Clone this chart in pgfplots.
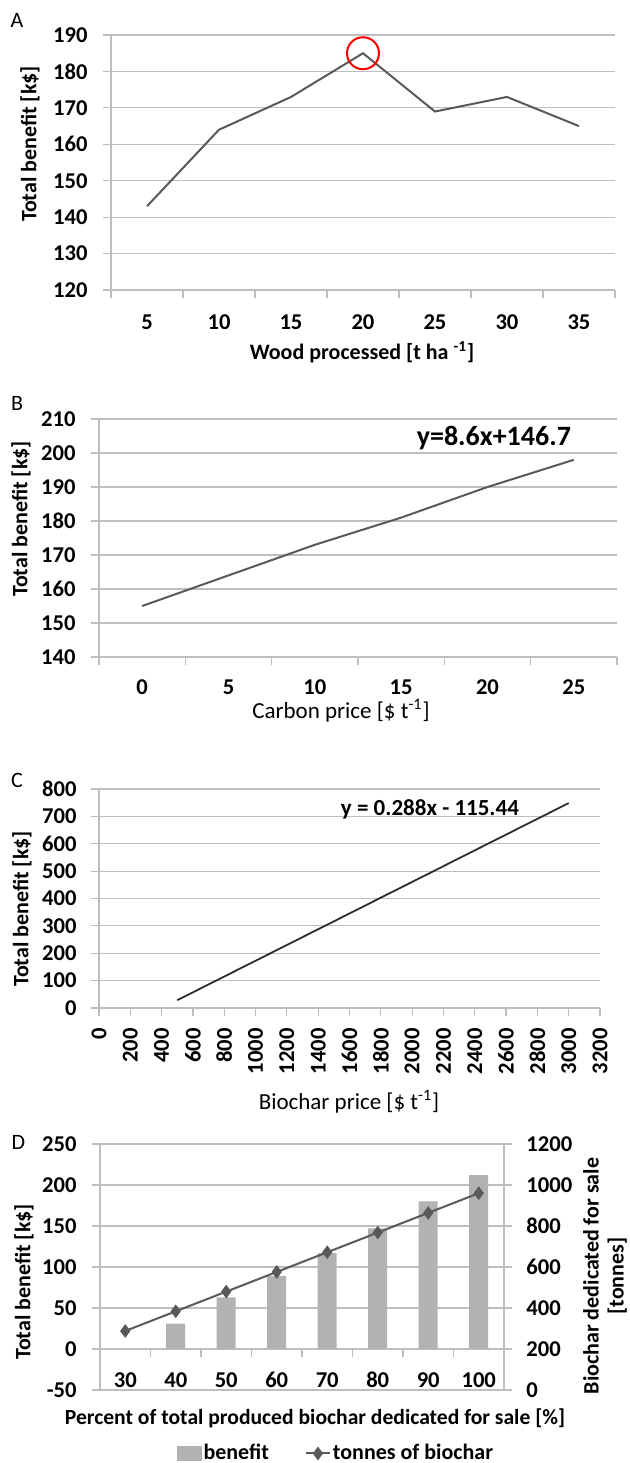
\documentclass[border=0pt]{standalone}
\usepackage{fontspec}
\setmainfont{Carlito}
\usepackage{pgfplots}
\pgfplotsset{compat=1.18}
\definecolor{gridgray}{RGB}{190,190,190}
\definecolor{linegray}{RGB}{89,89,89}
\definecolor{bargray}{RGB}{178,178,178}
\definecolor{darkline}{RGB}{45,45,45}
\newcommand\tfont{\fontsize{11.3}{13}\selectfont\bfseries}
\newcommand\lfont{\fontsize{11}{13}\selectfont\bfseries}
\newcommand\rfont{\fontsize{11.5}{13}\selectfont}
\pgfplotsset{
  excel/.style={
    scale only axis,
    anchor=south west,
    axis x line*=bottom,
    axis y line*=left,
    axis line style={draw=gridgray, line width=0.6pt},
    ymajorgrids,
    grid style={draw=gridgray, line width=0.6pt},
    tick style={draw=gridgray, line width=0.6pt},
    tick align=outside,
    major tick length=4pt,
    tick label style={font=\tfont},
    /pgf/number format/assume math mode=true,
    /pgf/number format/1000 sep={},
    yticklabel style={anchor=east, inner sep=0pt, xshift=-7.5pt},
    clip=false,
  },
}
\begin{document}
\begin{tikzpicture}
\useasboundingbox (0,0) rectangle (315pt,-731.5pt);
% ---------------- A
\begin{axis}[excel, at={(55.5pt,-145pt)}, width=252pt, height=127.5pt,
  xmin=-0.5, xmax=6.5, ymin=120, ymax=190, ytick={120,130,...,190},
  xtick={-0.5,0.5,...,6.5}, xticklabels={},
  extra x ticks={0,1,2,3,4,5,6}, extra x tick labels={5,10,15,20,25,30,35},
  extra x tick style={major tick length=0pt, xticklabel style={anchor=center, yshift=-16pt}},
]
\addplot[linegray, line width=1pt] coordinates {(0,143)(1,164)(2,173)(3,185)(4,169)(5,173)(6,165)};
\addplot[only marks, mark=o, mark size=8pt, red, mark options={line width=1pt}] coordinates {(3,185)};
\end{axis}
% ---------------- B
\begin{axis}[excel, at={(49.5pt,-328.5pt)}, width=259pt, height=119pt,
  xmin=-0.5, xmax=5.5, ymin=140, ymax=210, ytick={140,150,...,210},
  xtick={-0.5,0.5,...,5.5}, xticklabels={},
  extra x ticks={0,1,2,3,4,5}, extra x tick labels={0,5,10,15,20,25},
  extra x tick style={major tick length=0pt, xticklabel style={anchor=center, yshift=-15pt}},
]
\addplot[linegray, line width=1pt] coordinates {(0,155)(1,164)(2,173)(3,181)(4,190)(5,198)};
\end{axis}
% ---------------- C
\begin{axis}[excel, at={(49.5pt,-504pt)}, width=250.5pt, height=109.5pt,
  xmin=0, xmax=3200, xtick={0,200,...,3200},
  ymin=0, ymax=800, ytick={0,100,...,800},
  yticklabel style={xshift=0.5pt},
  xticklabel style={yshift=-6pt, rotate=90, anchor=east, inner sep=0pt},
]
\addplot[darkline, line width=0.9pt] coordinates {(500,28.6)(1000,172.6)(1500,316.6)(2000,460.6)(2500,604.6)(3000,748.6)};
\end{axis}
% ---------------- D (left)
\begin{axis}[excel, at={(50pt,-695pt)}, width=202pt, height=123pt,
  axis x line*=middle,
  xmin=-0.5, xmax=7.5, ymin=-50, ymax=250, ytick={-50,0,...,250},
  yticklabels={-50,0,50,100,150,200,250},
  xtick={-0.5,0.5,...,7.5}, xticklabels={},
  extra x ticks={0,1,2,3,4,5,6,7}, extra x tick labels={30,40,50,60,70,80,90,100},
  extra x tick style={major tick length=0pt, xticklabel style={anchor=center, yshift=-15.5pt}},
]
\addplot[ybar, bar width=9.5pt, fill=bargray, draw=none] coordinates {(1,31)(2,63)(3,89)(4,117)(5,147)(6,180)(7,212)};
\end{axis}
% ---------------- D (right)
\begin{axis}[scale only axis, anchor=south west, at={(50pt,-695pt)}, width=202pt, height=123pt,
  axis x line=none, axis y line*=right,
  axis line style={draw=gridgray, line width=0.6pt},
  tick style={draw=gridgray, line width=0.6pt}, tick align=outside, major tick length=4pt,
  tick label style={font=\tfont},
  /pgf/number format/assume math mode=true, /pgf/number format/1000 sep={},
  yticklabel style={anchor=west, inner sep=0pt, xshift=7pt},
  xmin=-0.5, xmax=7.5, ymin=0, ymax=1200, ytick={0,200,...,1200},
  clip=false,
  legend style={at={(0.584,-0.258)}, anchor=center, draw=none, fill=none,
    legend columns=2, font=\lfont,
    /tikz/every even column/.append style={column sep=17pt},
    nodes={inner sep=1pt}},
]
\addlegendimage{legend image code/.code={\fill[bargray] (0pt,-3.6pt) rectangle (12pt,3.6pt);}}
\addlegendentry{benefit}
\addplot[linegray, line width=1pt, mark=diamond*, mark size=2.6pt, mark options={fill=linegray},
  legend image code/.code={\draw[mark repeat=2, mark phase=2] plot coordinates {(0pt,0pt)(6pt,0pt)(12pt,0pt)};}]
  coordinates {(0,288)(1,384)(2,480)(3,576)(4,672)(5,768)(6,864)(7,960)};
\addlegendentry{tonnes of biochar}
\end{axis}
% ---------------- texts
\node[font=\fontsize{11}{13}\selectfont] at (8.5pt,-10pt) {A};
\node[font=\fontsize{11}{13}\selectfont] at (8.5pt,-201.5pt) {B};
\node[font=\fontsize{11}{13}\selectfont] at (8.5pt,-390pt) {C};
\node[font=\fontsize{11}{13}\selectfont] at (9.25pt,-571pt) {D};
\node[font=\lfont, rotate=90] at (15pt,-72pt) {Total benefit [k\$]};
\node[font=\lfont, rotate=90] at (10.5pt,-259.5pt) {Total benefit [k\$]};
\node[font=\lfont, rotate=90] at (11pt,-454.5pt) {Total benefit [k\$]};
\node[font=\lfont, rotate=90] at (12pt,-641pt) {Total benefit [k\$]};
\node[font=\fontsize{11}{12.5}\selectfont\bfseries, rotate=90, align=center, inner sep=0pt] at (302.5pt,-638pt) {Biochar dedicated for sale\\{}[tonnes]};
\node[font=\lfont] at (181pt,-176pt) {Wood processed [t ha \textsuperscript{-1}]};
\node[font=\rfont] at (170.5pt,-355.5pt) {Carbon price [\$ t\textsuperscript{-1}]};
\node[font=\rfont] at (174.5pt,-550.75pt) {Biochar price [\$ t\textsuperscript{-1}]};
\node[font=\fontsize{10.8}{13}\selectfont\bfseries] at (157.5pt,-709.25pt) {Percent of total produced biochar dedicated for sale [\%]};
\node[font=\fontsize{14}{16}\selectfont\bfseries, anchor=base east] at (289pt,-222.5pt) {y=8.6x+146.7};
\node[font=\fontsize{11.5}{14}\selectfont\bfseries, anchor=base east] at (263pt,-407.5pt) {y = 0.288x - 115.44};
\end{tikzpicture}
\end{document}
